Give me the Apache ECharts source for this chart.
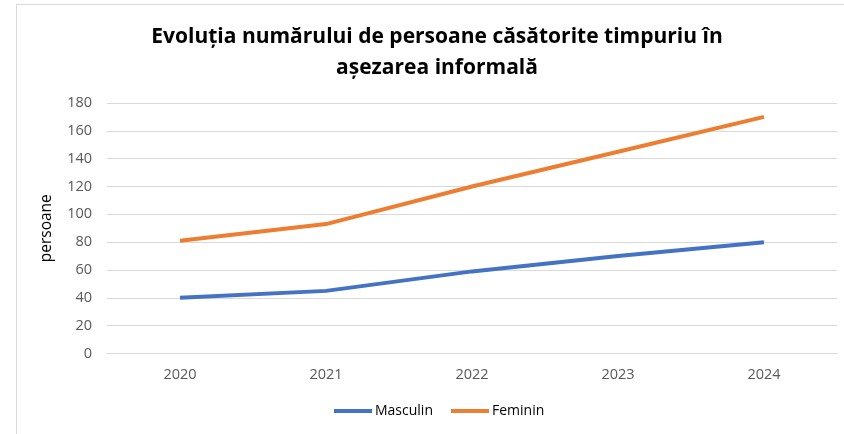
<!DOCTYPE html>
<html>
<head>
<meta charset="utf-8">
<script src="https://cdn.jsdelivr.net/npm/echarts@6/dist/echarts.min.js"></script>
<style>
html,body{margin:0;padding:0;background:#fff;}
#chart{width:844px;height:434px;}
</style>
</head>
<body>
<div id="chart"></div>
<script>
const categories = ['2020', '2021', '2022', '2023', '2024'];
const masculin = [40, 45, 59, 70, 80];
const feminin = [81, 93, 120, 145, 170];
const seriesNames = ['Masculin', 'Feminin'];
const titleText = 'Evoluția numărului de persoane căsătorite timpuriu în\nașezarea informală';
const yAxisName = 'persoane';

const chart = echarts.init(document.getElementById('chart'));
chart.setOption({
  backgroundColor: '#fff',
  animation: false,
  graphic: [{
    type: 'rect',
    shape: {x: 16.5, y: 4.5, width: 840, height: 440},
    style: {fill: 'none', stroke: '#d9d9d9', lineWidth: 1},
    silent: true
  }],
  title: {
    text: titleText,
    left: 432,
    textAlign: 'center',
    top: 17,
    textStyle: {fontFamily: 'Open Sans', fontWeight: 'bold', fontSize: 21, color: '#000', lineHeight: 31}
  },
  legend: {
    data: seriesNames,
    bottom: 11,
    left: 329,
    itemWidth: 38,
    itemHeight: 4,
    itemGap: 18,
    icon: 'rect',
    textStyle: {fontFamily: 'Open Sans', fontSize: 14, color: '#000', padding: [0, 0, 0, -2]}
  },
  grid: {left: 107, right: 7, top: 103, bottom: 80.5},
  xAxis: {
    type: 'category',
    data: categories,
    boundaryGap: true,
    axisLine: {show: true, lineStyle: {color: '#d9d9d9', width: 1}},
    axisTick: {show: false},
    axisLabel: {fontFamily: 'Open Sans', fontSize: 14.5, color: '#595959', margin: 14}
  },
  yAxis: {
    type: 'value',
    min: 0,
    max: 180,
    interval: 20,
    name: yAxisName,
    nameLocation: 'middle',
    nameGap: 52,
    nameTextStyle: {fontFamily: 'Open Sans', fontSize: 15.5, color: '#000'},
    axisLine: {show: false},
    axisTick: {show: false},
    axisLabel: {fontFamily: 'Open Sans', fontSize: 14.5, color: '#595959', margin: 15},
    splitLine: {lineStyle: {color: '#d9d9d9', width: 1}}
  },
  series: [
    {name: seriesNames[0], type: 'line', data: masculin, symbol: 'none', lineStyle: {color: '#4472C4', width: 4}, itemStyle: {color: '#4472C4'}},
    {name: seriesNames[1], type: 'line', data: feminin, symbol: 'none', lineStyle: {color: '#ED7D31', width: 4}, itemStyle: {color: '#ED7D31'}}
  ]
});
</script>
</body>
</html>
